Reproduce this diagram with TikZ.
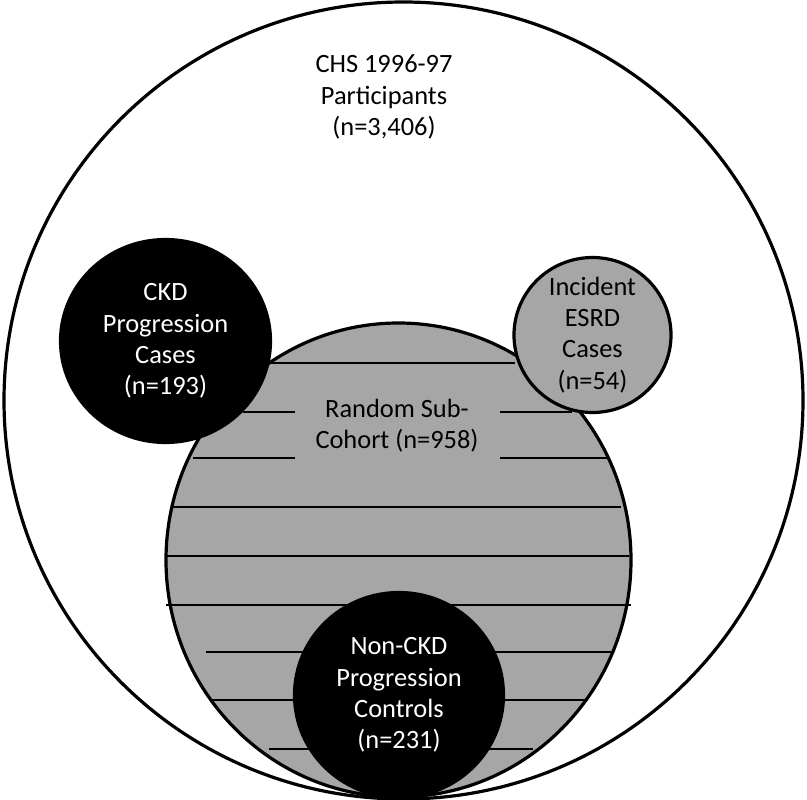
\documentclass[tikz,border=0pt]{standalone}
\usepackage{fontspec}
\setmainfont{Carlito}
\usepackage{tikz}
\usetikzlibrary{shapes.geometric}
\definecolor{cohortgray}{HTML}{A6A6A6}
\tikzset{
  disk/.style={ellipse,draw=black,line width=3.2pt,inner sep=0pt},
  lbl/.style={align=center,inner sep=0pt,font=\fontsize{26.4}{31.2}\selectfont},
  hatch/.style={line width=1.6pt}
}

\begin{document}
\begin{tikzpicture}[x=1pt,y=-1pt]
  \fill[white] (0,0) rectangle (807,800);
  \useasboundingbox (0,0) rectangle (807,800);

  % whole cohort
  \node[disk,fill=white,minimum width=799pt,minimum height=797pt] (chs) at (403.5,400.5) {};
  \node[lbl] (chstext) at (384,97) {CHS 1996-97\\Participants\\(n=3,406)};

  % random sub-cohort with stripes
  \node[disk,fill=cohortgray,minimum width=465pt,minimum height=474pt] (rsc) at (398.5,560) {};
  \foreach \y/\xa/\xb in {363/270/515, 412/243/572, 458/193/610, 507/171/621,
                          556/167/629, 605/166/631, 652/206/611, 700/211/588, 749/269/533}
    \draw[hatch] (\xa,\y) -- (\xb,\y);
  \node[lbl,fill=cohortgray,minimum width=205pt,minimum height=90pt] (rsctext) at (397,425.5) {Random Sub-\\Cohort (n=958)};

  % cases and controls
  \node[disk,fill=black,minimum width=210pt,minimum height=203pt] (ckd) at (165.5,341) {};
  \node[lbl,text=white] (ckdtext) at (ckd) {CKD\\Progression\\Cases\\(n=193)};

  \node[disk,fill=cohortgray,minimum width=157pt,minimum height=155pt] (esrd) at (592.5,335) {};
  \node[lbl] (esrdtext) at (esrd) {Incident\\ESRD\\Cases\\(n=54)};

  \node[disk,fill=black,minimum width=209pt,minimum height=205pt] (nonckd) at (399,695) {};
  \node[lbl,text=white] (nonckdtext) at (nonckd) {Non-CKD\\Progression\\Controls\\(n=231)};
\end{tikzpicture}
\end{document}
